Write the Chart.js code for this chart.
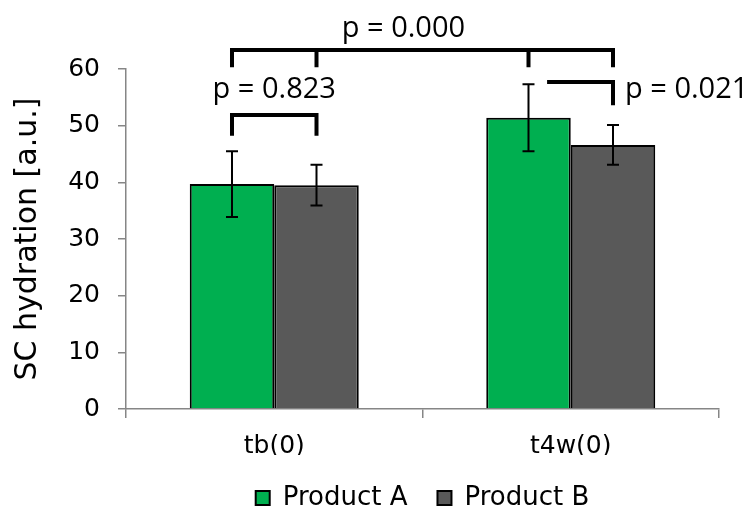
<!DOCTYPE html>
<html lang="en">
  <head>
    <meta charset="UTF-8" />
    <title>SC hydration</title>
    <script src="https://cdn.jsdelivr.net/npm/chart.js"></script>
    <style>
      html, body { margin: 0; padding: 0; background: #fff; }
      #wrap { width: 751px; height: 506px; }
    </style>
  </head>
  <body>
    <div id="wrap"><canvas id="myChart"></canvas></div>

    <script>
      // data
      const categories = ["tb(0)", "t4w(0)"];
      const productA = [39.7, 51.4];
      const productB = [39.5, 46.6];
      const errorA = [5.8, 5.9];
      const errorB = [3.6, 3.5];
      const yTicks = [0, 10, 20, 30, 40, 50, 60];
      const pLabels = ["p = 0.823", "p = 0.021", "p = 0.000"];

      const sans = "'DejaVu Sans', sans-serif";
      const tickFont = { family: sans, size: 25, lineHeight: 1 };

      // error bars + significance brackets
      const extras = {
        id: "extras",
        afterDatasetsDraw(chart) {
          const ctx = chart.ctx;
          const y = chart.scales.y;
          const errs = [errorA, errorB];
          const vals = [productA, productB];

          ctx.save();
          ctx.strokeStyle = "#000";
          ctx.lineWidth = 2;
          for (let d = 0; d < 2; d++) {
            const meta = chart.getDatasetMeta(d);
            meta.data.forEach((bar, i) => {
              const top = y.getPixelForValue(vals[d][i] + errs[d][i]);
              const bot = y.getPixelForValue(vals[d][i] - errs[d][i]);
              ctx.beginPath();
              ctx.moveTo(bar.x, top);
              ctx.lineTo(bar.x, bot);
              ctx.moveTo(bar.x - 6, top);
              ctx.lineTo(bar.x + 6, top);
              ctx.moveTo(bar.x - 6, bot);
              ctx.lineTo(bar.x + 6, bot);
              ctx.stroke();
            });
          }

          const a = chart.getDatasetMeta(0).data;
          const b = chart.getDatasetMeta(1).data;
          ctx.lineWidth = 4;
          ctx.lineCap = "butt";

          // tb bracket
          let hy = y.getPixelForValue(51.9);
          let ly = y.getPixelForValue(48.2);
          ctx.beginPath();
          ctx.moveTo(a[0].x, ly);
          ctx.lineTo(a[0].x, hy);
          ctx.lineTo(b[0].x, hy);
          ctx.lineTo(b[0].x, ly);
          ctx.stroke();

          // t4w bracket (open on the left)
          hy = y.getPixelForValue(57.7);
          ly = y.getPixelForValue(53.6);
          const startX = a[1].x + (b[1].x - a[1].x) * 0.22;
          ctx.beginPath();
          ctx.moveTo(startX, hy);
          ctx.lineTo(b[1].x, hy);
          ctx.lineTo(b[1].x, ly);
          ctx.stroke();

          // top bracket tb vs t4w
          hy = y.getPixelForValue(63.35);
          ly = y.getPixelForValue(60.3);
          ctx.beginPath();
          ctx.moveTo(a[0].x, hy);
          ctx.lineTo(b[1].x, hy);
          [a[0].x, b[0].x, a[1].x, b[1].x].forEach((x) => {
            ctx.moveTo(x, hy - 2);
            ctx.lineTo(x, ly);
          });
          ctx.stroke();

          // labels
          ctx.fillStyle = "#000";
          ctx.font = "29px 'Open Sans', sans-serif";
          ctx.textBaseline = "alphabetic";
          ctx.textAlign = "center";
          ctx.fillText(pLabels[0], (a[0].x + b[0].x) / 2, y.getPixelForValue(54.8));
          ctx.fillText(pLabels[2], a[0].x + (b[1].x - a[0].x) * 0.45, y.getPixelForValue(65.7));
          ctx.textAlign = "left";
          ctx.fillText(pLabels[1], b[1].x + 12, y.getPixelForValue(54.9));
          ctx.restore();
        },
      };

      const config = {
        type: "bar",
        data: {
          labels: categories,
          datasets: [
            {
              label: "Product A",
              data: productA,
              backgroundColor: "#00af50",
              borderColor: "#000",
              borderWidth: 2,
            },
            {
              label: "Product B",
              data: productB,
              backgroundColor: "#595959",
              borderColor: "#000",
              borderWidth: 2,
            },
          ],
        },
        options: {
          responsive: true,
          maintainAspectRatio: false,
          animation: false,
          datasets: {
            bar: { categoryPercentage: 0.57, barPercentage: 1.0 },
          },
          layout: { padding: { top: 69, right: 32, left: 0, bottom: -15 } },
          plugins: {
            tooltip: { enabled: false },
            legend: {
              position: "bottom",
              fullSize: false,
              labels: {
                boxWidth: 14,
                boxHeight: 14,
                padding: 30,
                color: "#000",
                font: { family: sans, size: 26, lineHeight: 1 },
              },
            },
          },
          scales: {
            x: {
              grid: {
                offset: true,
                drawOnChartArea: false,
                color: "#868686",
                tickLength: 9,
                lineWidth: 1.5,
              },
              border: { color: "#868686", width: 1.5 },
              ticks: { color: "#000", font: tickFont, padding: 16 },
              afterFit(scale) {
                scale.height = 46;
              },
            },
            y: {
              min: 0,
              max: 60,
              afterBuildTicks(scale) {
                scale.ticks = yTicks.map((v) => ({ value: v }));
              },
              grid: {
                drawOnChartArea: false,
                color: "#868686",
                tickLength: 8,
                lineWidth: 1.5,
              },
              border: { color: "#868686", width: 1.5 },
              ticks: { color: "#000", font: tickFont, padding: 18 },
              title: {
                display: true,
                text: "SC hydration [a.u.]",
                color: "#000",
                font: { family: sans, size: 30 },
                padding: { top: 10, bottom: 0 },
              },
              afterFit(scale) {
                scale.width = 126;
              },
            },
          },
        },
        plugins: [extras],
      };

      const ctx = document.getElementById("myChart");
      new Chart(ctx, config);
    </script>
  </body>
</html>
